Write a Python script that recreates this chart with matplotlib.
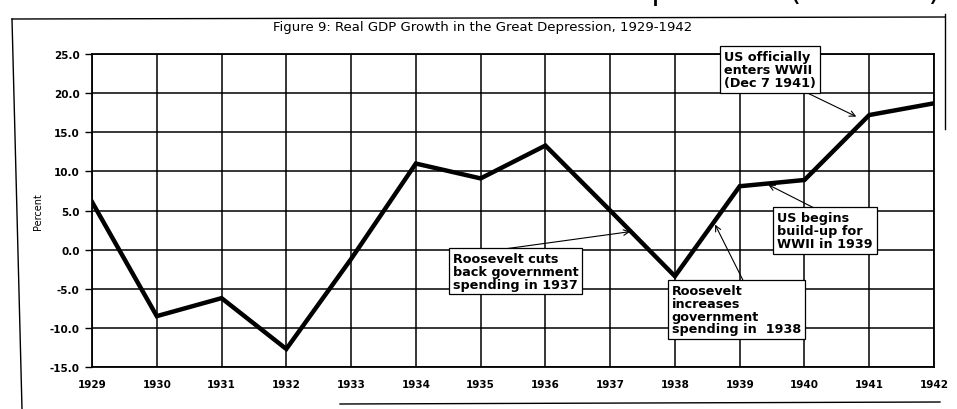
import matplotlib
matplotlib.use("Agg")
import matplotlib.pyplot as plt
from matplotlib.lines import Line2D

years = [1929, 1930, 1931, 1932, 1933, 1934, 1935, 1936, 1937, 1938, 1939, 1940, 1941, 1942]
growth = [6.1, -8.5, -6.2, -12.7, -1.2, 11.0, 9.1, 13.3, 5.0, -3.4, 8.1, 8.9, 17.2, 18.7]
yticks = [25.0, 20.0, 15.0, 10.0, 5.0, 0.0, -5.0, -10.0, -15.0]

title = "Figure 9: Real GDP Growth in the Great Depression, 1929-1942"
header = "The Great Depression (1929-42)"
notes = [
    ("Roosevelt cuts\nback government\nspending in 1937", (1934.57, -0.3), (1935.38, 0.1), (1937.31, 2.3)),
    ("Roosevelt\nincreases\ngovernment\nspending in  1938", (1937.95, -4.4), (1939.05, -3.9), (1938.62, 3.2)),
    ("US begins\nbuild-up for\nWWII in 1939", (1939.58, 4.9), (1940.13, 5.4), (1939.44, 8.3)),
    ("US officially\nenters WWII\n(Dec 7 1941)", (1938.76, 25.5), (1939.90, 20.6), (1940.80, 17.0)),
]

W, H = 957, 410
fig = plt.figure(figsize=(W / 100, H / 100), dpi=100)
fig.patch.set_facecolor("white")
ax = fig.add_axes([92 / W, 1 - 368 / H, (934 - 92) / W, (368 - 55) / H])

ax.plot(years, growth, color="black", lw=3.2, solid_joinstyle="miter", zorder=5)
ax.set_xlim(years[0], years[-1])
ax.set_ylim(-15, 25)
ax.set_xticks(years)
ax.set_xticklabels([str(y) for y in years], fontsize=7.5, fontweight="bold")
ax.set_yticks(yticks)
ax.set_yticklabels([f"{v:.1f}" for v in yticks], fontsize=7.5, fontweight="bold")
ax.tick_params(axis="x", length=0, pad=9)
ax.tick_params(axis="y", length=5, width=1, direction="out", pad=4)
ax.grid(True, color="black", lw=1.1)
for s in ax.spines.values():
    s.set_color("black")
    s.set_linewidth(1.3)
ax.set_ylabel("Percent", fontsize=7, labelpad=5)

for txt, tpos, tail, tip in notes:
    ax.text(tpos[0], tpos[1], txt, ha="left", va="top", fontsize=9.2, linespacing=0.98,
            fontweight="bold", zorder=7, clip_on=False,
            bbox=dict(boxstyle="square,pad=0.3", fc="white", ec="black", lw=0.9))
    ax.annotate("", xy=tip, xytext=tail, zorder=6,
                arrowprops=dict(arrowstyle="->", lw=0.8, color="black", shrinkA=0, shrinkB=0))

fig.text(483 / W, 1 - 28 / H, title, ha="center", va="center", fontsize=9.5)
fig.text(940 / W, 1.0, header, ha="right", va="baseline", fontsize=22)

# outer frame of the scanned page
frame = [((12, 20), (945, 18)), ((12, 20), (22, 410)), ((945, 15), (945, 130)), ((340, 405), (940, 403))]
for (x0, y0), (x1, y1) in frame:
    fig.add_artist(Line2D([x0 / W, x1 / W], [1 - y0 / H, 1 - y1 / H], color="black", lw=1.0,
                          transform=fig.transFigure))

fig.savefig("out.png", dpi=100, facecolor="white")
